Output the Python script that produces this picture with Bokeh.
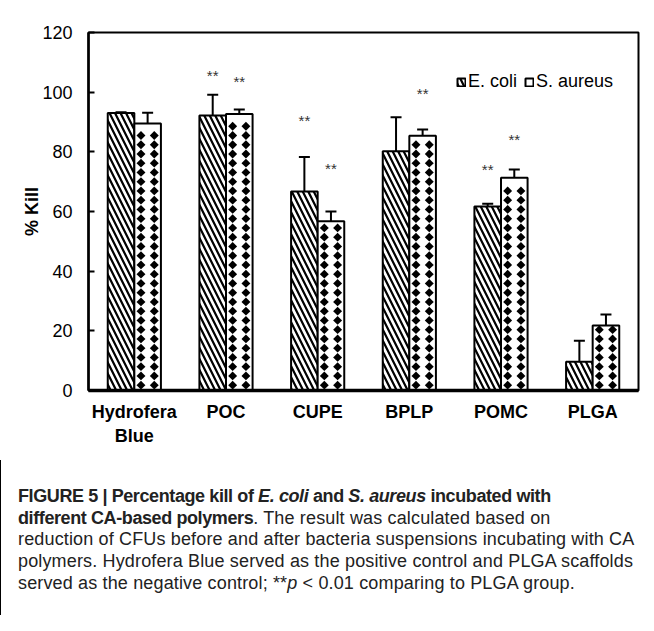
from bokeh.plotting import figure
from bokeh.models import (Range1d, FixedTicker, Whisker, TeeHead, ColumnDataSource,
                          Legend, LegendItem, Div)
from bokeh.layouts import column
from bokeh.embed import file_html
from bokeh.resources import INLINE
from bokeh.core.properties import value

# ---------------- data ----------------
categories = ["Hydrofera Blue", "POC", "CUPE", "BPLP", "POMC", "PLGA"]
tick_labels = ["Hydrofera\nBlue", "POC", "CUPE", "BPLP", "POMC", "PLGA"]
ecoli = [93.0, 92.2, 66.7, 80.2, 61.7, 9.6]
ecoli_err = [0.3, 6.9, 11.6, 11.4, 0.9, 7.1]
saureus = [89.5, 92.7, 56.7, 85.4, 71.3, 21.8]
saureus_err = [3.6, 1.5, 3.3, 2.1, 2.8, 3.7]
ecoli_sig = ["", "**", "**", "", "**", ""]
ecoli_sig_y = [0, 105.7, 90.6, 0, 74.2, 0]
saureus_sig = ["", "**", "**", "**", "**", ""]
saureus_sig_y = [0, 103.7, 74.5, 99.7, 84.2, 0]
y_ticks = [0, 20, 40, 60, 80, 100, 120]

FONT = "Liberation Sans"
BW = 0.29  # bar width in category units

xc = [i + 0.5 for i in range(len(categories))]
x_ec = [x - BW / 2 for x in xc]
x_sa = [x + BW / 2 for x in xc]

p = figure(width=646, height=460, x_range=Range1d(0, 6), y_range=Range1d(0, 120),
           output_backend="svg", toolbar_location=None,
           min_border_left=88, min_border_right=8, min_border_top=32, min_border_bottom=70)
p.xgrid.visible = False
p.ygrid.visible = False
p.outline_line_color = "black"
p.outline_line_width = 2
p.background_fill_color = "white"
p.border_fill_color = "white"

# y axis
p.yaxis.ticker = FixedTicker(ticks=y_ticks)
p.yaxis.major_tick_in = 6
p.yaxis.major_tick_out = 0
p.yaxis.minor_tick_in = 0
p.yaxis.minor_tick_out = 0
p.yaxis.major_tick_line_width = 2
p.yaxis.axis_line_width = 2.5
p.yaxis.major_label_text_font = FONT
p.yaxis.major_label_text_font_size = "18px"
p.yaxis.major_label_text_color = "black"
p.yaxis.major_label_standoff = 16
p.yaxis.axis_label = "% Kill"
p.yaxis.axis_label_text_font = FONT
p.yaxis.axis_label_text_font_size = "18px"
p.yaxis.axis_label_text_font_style = "bold"
p.yaxis.axis_label_text_color = "black"
p.yaxis.axis_label_standoff = -3

# x axis
p.xaxis.ticker = FixedTicker(ticks=xc)
p.xaxis.major_label_overrides = {x: lab for x, lab in zip(xc, tick_labels)}
p.xaxis.major_tick_in = 0
p.xaxis.major_tick_out = 0
p.xaxis.minor_tick_in = 0
p.xaxis.minor_tick_out = 0
p.xaxis.axis_line_width = 3.5
p.xaxis.major_label_text_font = FONT
p.xaxis.major_label_text_font_size = "18px"
p.xaxis.major_label_text_font_style = "bold"
p.xaxis.major_label_text_color = "black"
p.xaxis.major_label_standoff = 11

# E. coli bars (hatched)
src_ec = ColumnDataSource(dict(x=x_ec, top=ecoli, upper=[v + e for v, e in zip(ecoli, ecoli_err)]))
r_ec = p.vbar(x="x", top="top", bottom=0, width=BW, source=src_ec,
              fill_color="white", line_color="black", line_width=2,
              hatch_pattern="left_diagonal_line", hatch_color="black",
              hatch_scale=11, hatch_weight=2.2)

# S. aureus bars (diamond texture)
src_sa = ColumnDataSource(dict(x=x_sa, top=saureus, upper=[v + e for v, e in zip(saureus, saureus_err)]))
r_sa_fill = p.vbar(x="x", top="top", bottom=0, width=BW, source=src_sa,
                   fill_color="white", line_color=None)
dx, dy, y0, half = BW / 4, 3.1, 1.8, 1.4
dxs, dys = [], []
for xs_, top in zip(x_sa, saureus):
    y = y0
    while y + half <= top:
        dxs += [xs_ - dx, xs_ + dx]
        dys += [y, y]
        y += dy
p.scatter(dxs, dys, marker="square", angle=0.785398, size=6.3, fill_color="black", line_color=None)
r_sa_line = p.vbar(x="x", top="top", bottom=0, width=BW, source=src_sa,
                   fill_color=None, line_color="black", line_width=2)

# error bars (upper only)
for src in (src_ec, src_sa):
    p.add_layout(Whisker(source=src, base="x", lower="top", upper="upper", dimension="height",
                         line_width=2, line_color="black",
                         upper_head=TeeHead(size=11, line_width=2, line_color="black"),
                         lower_head=None))

# significance marks
sig_x, sig_y, sig_t = [], [], []
for xx, yy, t in zip(x_ec, ecoli_sig_y, ecoli_sig):
    if t:
        sig_x.append(xx); sig_y.append(yy); sig_t.append(t)
for xx, yy, t in zip(x_sa, saureus_sig_y, saureus_sig):
    if t:
        sig_x.append(xx); sig_y.append(yy); sig_t.append(t)
p.text(x=sig_x, y=sig_y, text=sig_t, text_align="center", text_baseline="middle",
       text_font=value(FONT), text_font_size="15px", text_color="#333333")

# legend
legend = Legend(items=[LegendItem(label="E. coli", renderers=[r_ec]),
                       LegendItem(label="S. aureus", renderers=[r_sa_fill, r_sa_line])],
                orientation="horizontal", location=(368, 298),
                glyph_width=10, glyph_height=10, label_standoff=2, spacing=7,
                padding=0, margin=0, border_line_color=None, background_fill_alpha=0,
                label_text_font=FONT, label_text_font_size="18px", label_height=16,
                label_text_color="black")
p.add_layout(legend)

caption = ('<span style="font-weight:bold;letter-spacing:-0.4px">FIGURE 5 | Percentage kill of '
           '<i>E. coli</i> and <i>S. aureus</i> incubated with<br>'
           'different CA-based polymers</span>. The result was calculated based on<br>'
           'reduction of CFUs before and after bacteria suspensions incubating with CA<br>'
           'polymers. Hydrofera Blue served as the positive control and PLGA scaffolds<br>'
           'served as the negative control; **<i>p</i> &lt; 0.01 comparing to PLGA group.')
cap_div = Div(text=caption, width=646, height=155, margin=0,
              styles={"font-family": FONT, "font-size": "18px", "letter-spacing": "0.15px",
                      "line-height": "21.7px", "color": "#222222", "padding-left": "17px",
                      "padding-top": "26px", "white-space": "nowrap", "box-sizing": "border-box",
                      "border-left": "1px solid black"})

# outer figure box: top and left rules drawn as a shadow just outside the panel
layout = column(p, cap_div, spacing=0,
                styles={"box-shadow": "-1px -1px 0 0 black"})
open("out.html", "w").write(file_html(layout, INLINE))
